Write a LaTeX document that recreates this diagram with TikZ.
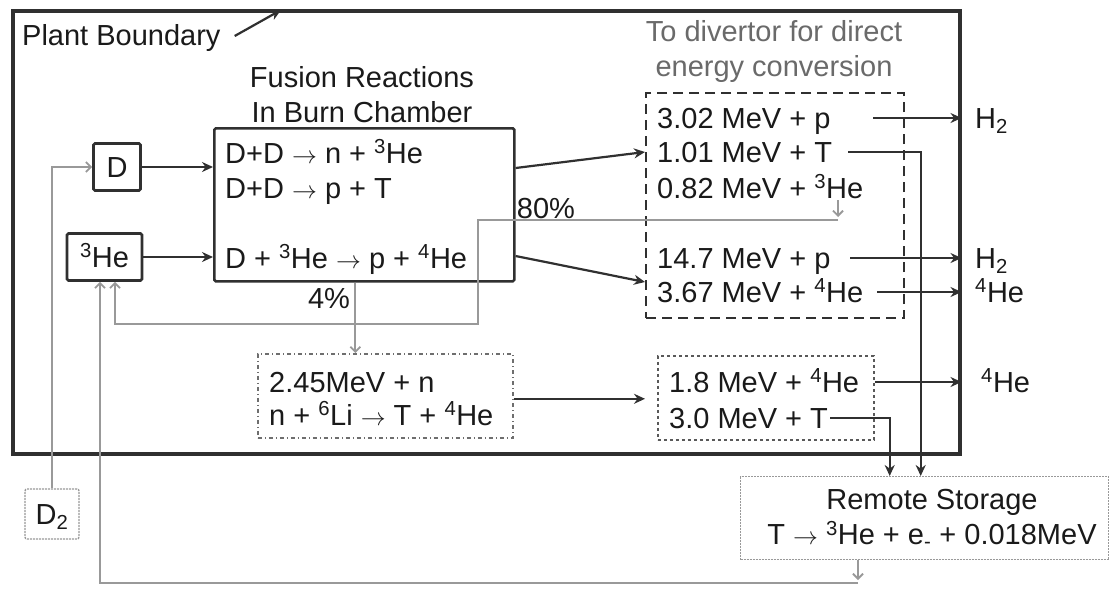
\documentclass[tikz,border=0pt]{standalone}
\usepackage{fontspec}
\setmainfont{Liberation Sans}
\usetikzlibrary{arrows.meta,calc}
\definecolor{dk}{HTML}{303030}
\definecolor{gy}{HTML}{999999}
\definecolor{tx}{HTML}{1A1A1A}
\definecolor{gt}{HTML}{6A6A6A}
\tikzset{
  txt/.style={font=\fontsize{29}{35}\selectfont, text=tx, inner sep=0pt, text height=20pt, text depth=0pt},
  title/.style={font=\fontsize{29}{35}\selectfont, inner sep=0pt, align=center},
  solidbox/.style={draw=dk, line width=2.6pt, rounded corners=1.5pt, inner sep=0pt},
  darr/.style={draw=dk, line width=2.2pt, -{Stealth[length=11pt,width=10pt]}},
  garr/.style={draw=gy, line width=1.8pt, -{Straight Barb[length=5pt,width=10pt]}},
}
\begin{document}
\begin{tikzpicture}[x=1pt,y=-1pt]
\useasboundingbox[fill=white] (0,0) rectangle (1114,590);

% plant boundary
\node[draw=dk, line width=3.5pt, minimum width=947pt, minimum height=443pt, anchor=north west, inner sep=0pt] (plant) at (11,9) {};
\node[txt, anchor=west] (pblabel) at (22,35) {Plant Boundary};
\coordinate (pbtip) at (281,10);
\draw[darr] ([xshift=14pt,yshift=-1pt]pblabel.east) -- (pbtip);

% burn chamber
\node[title, text=tx] (ftitle) at (362,95) {Fusion Reactions\\In Burn Chamber};
\node[solidbox, minimum width=300pt, minimum height=153pt, anchor=north west] (burn) at (213,127) {};
\node[txt, anchor=west] (r1) at (225,153) {D+D $\rightarrow$ n + \textsuperscript{3}He};
\node[txt, anchor=west] (r2) at (225,188) {D+D $\rightarrow$ p + T};
\node[txt, anchor=west] (r3) at (225,258) {D + \textsuperscript{3}He $\rightarrow$ p + \textsuperscript{4}He};

% feed boxes
\node[solidbox, txt, inner sep=0pt, minimum width=47pt, minimum height=47pt] (dbox) at (117,167) {D};
\node[solidbox, txt, inner sep=0pt, minimum width=75pt, minimum height=47pt] (he3) at (104.5,257) {\textsuperscript{3}He};
\node[draw=gy, line width=1.4pt, dash pattern=on 2pt off 1pt, rounded corners=2pt, txt, minimum width=54pt, minimum height=50pt] (d2) at (52,514) {D\textsubscript{2}};

% divertor
\node[title, text=gt] (divtitle) at (774,51) {To divertor for direct\\energy conversion};
\node[draw=dk, line width=2.2pt, dash pattern=on 10pt off 6pt, minimum width=258pt, minimum height=225pt, anchor=north west, inner sep=0pt] (div) at (645,92) {};
\node[txt, anchor=west] (t302) at (657,118) {3.02 MeV + p};
\node[txt, anchor=west] (t101) at (657,152) {1.01 MeV + T};
\node[txt, anchor=west] (t082) at (657,188) {0.82 MeV + \textsuperscript{3}He};
\node[txt, anchor=west] (t147) at (657,258) {14.7 MeV + p};
\node[txt, anchor=west] (t367) at (657,292) {3.67 MeV + \textsuperscript{4}He};

% lithium blanket
\node[draw=dk!70, line width=1.6pt, dash pattern=on 4pt off 3pt on 1pt off 3pt, minimum width=255pt, minimum height=84pt, anchor=north west, inner sep=0pt] (li) at (257,353) {};
\node[txt, anchor=west] (l1) at (269,382) {2.45MeV + n};
\node[txt, anchor=west] (l2) at (269,415) {n + \textsuperscript{6}Li $\rightarrow$ T + \textsuperscript{4}He};

% blanket products
\node[draw=dk!80, line width=1.6pt, dash pattern=on 3pt off 3pt, minimum width=216pt, minimum height=84pt, anchor=north west, inner sep=0pt] (dot) at (657,355) {};
\node[txt, anchor=west] (t18) at (669,382) {1.8 MeV + \textsuperscript{4}He};
\node[txt, anchor=west] (t30) at (669,418) {3.0 MeV + T};

% remote storage
\node[draw=gy, line width=1.4pt, dash pattern=on 2pt off 1pt, minimum width=368pt, minimum height=83pt, anchor=north west, inner sep=0pt] (remote) at (740,476) {};
\node[title, text=tx] (rtext) at (932,519) {Remote Storage\\T $\rightarrow$ \textsuperscript{3}He + e\textsubscript{-} + 0.018MeV};

% outputs
\node[txt, anchor=west] (h2a) at (975,118) {H\textsubscript{2}};
\node[txt, anchor=west] (h2b) at (975,258) {H\textsubscript{2}};
\node[txt, anchor=west] (he4a) at (975,292) {\textsuperscript{4}He};
\node[txt, anchor=west] (he4b) at (981,382) {\textsuperscript{4}He};

% percentages
\node[txt] (p80) at (546,208) {80\%};
\node[txt] (p4) at (329,298) {4\%};

% connectors
\draw[darr] (dbox.east) -- (dbox.east -| burn.west);
\draw[darr] (he3.east) -- (he3.east -| burn.west);
\draw[garr] (d2.north) |- (dbox.west);
\draw[darr] ([yshift=-41pt]burn.north east) -- (div.west |- t101);
\draw[darr] ([yshift=-129pt]burn.north east) -- ([yshift=10pt]div.west |- t367);
\draw[garr] ([xshift=-9pt]burn.south) -- ([xshift=-9pt]burn.south |- li.north);

\coordinate (j80) at (838,220);
\draw[garr] ([yshift=-2pt]t082.south -| j80) -- ([yshift=3pt]j80);
\draw[garr] (j80) -- (478,220) -- (478,324) -| ([xshift=10.5pt]he3.south);

\coordinate (jret) at (858,583);
\draw[garr] (remote.south -| jret) -- ([yshift=3pt]jret);
\draw[garr] (jret) -| ([xshift=-4.5pt]he3.south);

\draw[darr] (873,0 |- t302) -- (plant.east |- t302);
\draw[darr] (850,0 |- t147) -- (plant.east |- t147);
\draw[darr] (877,0 |- t367) -- (plant.east |- t367);
\draw[darr] (875,0 |- t18) -- (plant.east |- t18);
\draw[darr] (848,0 |- t101) -| ([xshift=-4pt]remote.north);
\draw[darr] (830,0 |- t30) -| ([xshift=-35pt]remote.north);
\draw[darr] ([yshift=-3pt]li.east) -- ([yshift=-3pt,xshift=-12pt]li.east -| dot.west);
\end{tikzpicture}
\end{document}
